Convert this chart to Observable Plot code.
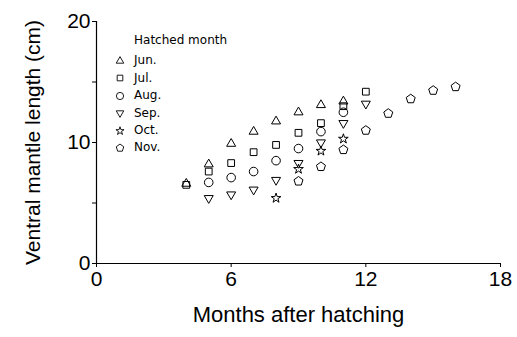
<!DOCTYPE html>
<html><head><meta charset="utf-8">
<script src="https://cdn.jsdelivr.net/npm/d3@7"></script>
<script src="https://cdn.jsdelivr.net/npm/@observablehq/plot@0.6"></script>
<style>
body{margin:0;background:#fff;}
#wrap{position:relative;width:517px;height:337px;}
#legend{position:absolute;left:112px;top:32px;font-family:"DejaVu Sans",sans-serif;font-size:12px;color:#000;line-height:17.4px;}
#legend .title{margin-left:22px;margin-bottom:3px;}
#legend .row{display:flex;align-items:center;height:17.4px;}
#legend svg{width:16px;height:14px;margin-right:6px;overflow:visible;}
</style></head><body><div id="wrap"></div>
<script>
// ---- data ----
const legendTitle = "Hatched month";
const hatchMonths = ["Jun.", "Jul.", "Aug.", "Sep.", "Oct.", "Nov."];
const junAge = [4, 5, 6, 7, 8, 9, 10, 11];
const junLen = [6.6, 8.2, 9.9, 10.9, 11.75, 12.5, 13.1, 13.4];
const julAge = [4, 5, 6, 7, 8, 9, 10, 11, 12];
const julLen = [6.5, 7.6, 8.3, 9.2, 9.8, 10.8, 11.6, 13.0, 14.2];
const augAge = [5, 6, 7, 8, 9, 10, 11];
const augLen = [6.7, 7.1, 7.6, 8.5, 9.5, 10.9, 12.5];
const sepAge = [5, 6, 7, 8, 9, 10, 11, 12];
const sepLen = [5.4, 5.7, 6.1, 6.9, 8.3, 10.0, 11.6, 13.2];
const octAge = [8, 9, 10, 11];
const octLen = [5.4, 7.8, 9.3, 10.3];
const novAge = [9, 10, 11, 12, 13, 14, 15, 16];
const novLen = [6.8, 8.0, 9.4, 11.0, 12.4, 13.6, 14.3, 14.6];
const xTicks = [0, 6, 12, 18];
const yTicks = [0, 5, 10, 15, 20];
const yLabelTicks = [0, 10, 20];
const xTitle = "Months after hatching";
const yTitle = "Ventral mantle length (cm)";

// ---- table ----
const series = [[junAge, junLen], [julAge, julLen], [augAge, augLen], [sepAge, sepLen], [octAge, octLen], [novAge, novLen]];
const data = series.flatMap(([a, l], i) => a.map((age, j) => ({hatch: hatchMonths[i], age, len: l[j]})));

// ---- symbols ----
const sqrt3 = Math.sqrt(3);
const downTriangle = {draw(ctx, size) {
  const s = Math.sqrt(size) * 0.6824, t = s / 2, u = s * sqrt3 / 2;
  ctx.moveTo(0, s); ctx.lineTo(u, -t); ctx.lineTo(-u, -t); ctx.closePath();
}};
const pentagon = {draw(ctx, size) {
  const R = Math.sqrt(size) * 0.62;
  for (let k = 0; k < 5; k++) {
    const a = -Math.PI / 2 + k * 2 * Math.PI / 5;
    k ? ctx.lineTo(R * Math.cos(a), R * Math.sin(a)) : ctx.moveTo(R * Math.cos(a), R * Math.sin(a));
  }
  ctx.closePath();
}};
const smallStar = {draw(ctx, size) { d3.symbolStar.draw(ctx, size * 0.5); }};
const symbols = [d3.symbolTriangle2, d3.symbolSquare2, d3.symbolCircle, downTriangle, smallStar, pentagon];

const plot = Plot.plot({
  width: 517, height: 337,
  marginLeft: 96, marginRight: 17, marginTop: 21, marginBottom: 74,
  style: {fontFamily: "'Liberation Sans', Arial, sans-serif", fontSize: "21px", color: "black", background: "white"},
  x: {domain: [0, 18]},
  y: {domain: [0, 20]},
  symbol: {domain: hatchMonths, range: symbols},
  marks: [
    Plot.axisX({ticks: xTicks, tickSize: 4, tickPadding: 4, label: null}),
    Plot.axisY({ticks: yTicks, tickSize: 4, text: null, label: null}),
    Plot.axisY({ticks: yLabelTicks, tickSize: 0, tickPadding: 6, label: null}),
    Plot.ruleX([0], {strokeWidth: 1.2}),
    Plot.ruleY([0], {strokeWidth: 1.2}),
    Plot.text([xTitle], {text: d => d, frameAnchor: "bottom", dy: 51, fontSize: 22, lineAnchor: "middle"}),
    Plot.text([yTitle], {text: d => d, frameAnchor: "left", dx: -63, rotate: -90, fontSize: 21, lineAnchor: "middle", textAnchor: "middle"}),
    Plot.dot(data, {x: "age", y: "len", symbol: "hatch", r: 4.3, stroke: "black", fill: "none", strokeWidth: 1})
  ]
});
const wrap = document.getElementById("wrap");
wrap.appendChild(plot);

// ---- legend ----
const legend = document.createElement("div");
legend.id = "legend";
const t = document.createElement("div");
t.className = "title"; t.textContent = legendTitle;
legend.appendChild(t);
hatchMonths.forEach((m, i) => {
  const row = document.createElement("div");
  row.className = "row";
  const svg = d3.create("svg");
  svg.append("path")
    .attr("transform", "translate(8,7)")
    .attr("d", d3.symbol(symbols[i], Math.PI * 3.6 * 3.6)())
    .attr("fill", "none").attr("stroke", "black").attr("stroke-width", 0.9);
  row.appendChild(svg.node());
  const s = document.createElement("span");
  s.textContent = m;
  row.appendChild(s);
  legend.appendChild(row);
});
wrap.appendChild(legend);
</script>
</body></html>
